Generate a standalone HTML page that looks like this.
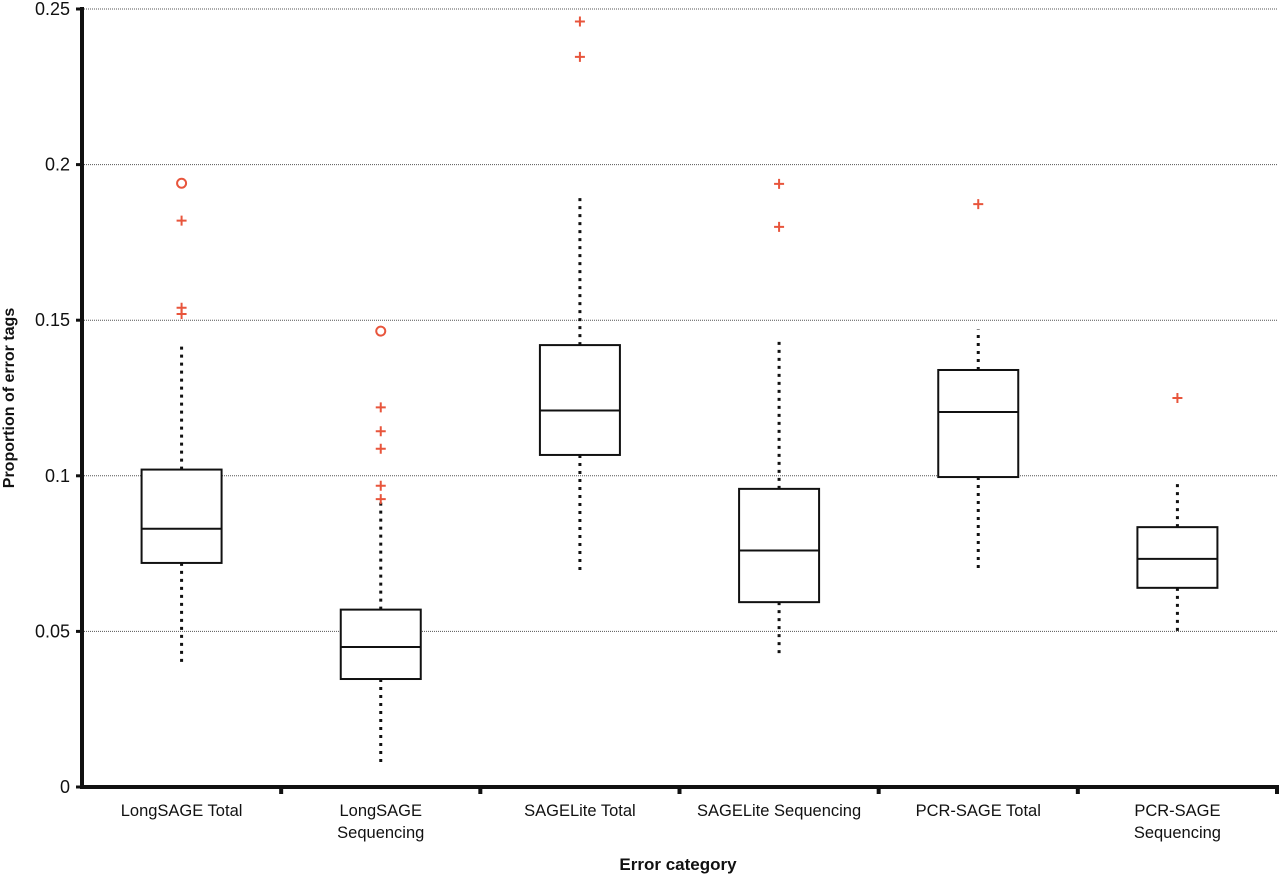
<!DOCTYPE html>
<html><head><meta charset="utf-8"><style>
body{margin:0;background:#fff;}
svg{display:block;font-family:"Liberation Sans",Arial,sans-serif;}
</style></head><body>
<svg id="chart" width="1280" height="876"></svg>
<script>
const categories=[["LongSAGE Total"],["LongSAGE","Sequencing"],["SAGELite Total"],["SAGELite Sequencing"],["PCR-SAGE Total"],["PCR-SAGE","Sequencing"]];
const whiskerLow=[0.039,0.008,0.069,0.0424,0.0688,0.049];
const q1=[0.072,0.0347,0.1067,0.0594,0.0996,0.064];
const median=[0.083,0.045,0.121,0.076,0.1205,0.0733];
const q3=[0.102,0.057,0.142,0.0958,0.134,0.0835];
const whiskerHigh=[0.143,0.093,0.19,0.1436,0.147,0.0987];
const outlierCat=[0,0,0,0,1,1,1,1,1,1,2,2,3,3,4,5];
const outlierVal=[0.194,0.182,0.154,0.152,0.1465,0.122,0.1143,0.1087,0.0968,0.0925,0.246,0.2346,0.1938,0.180,0.1873,0.125];
const outlierType=["o","+","+","+","o","+","+","+","+","+","+","+","+","+","+","+"];
const yTicks=[0,0.05,0.1,0.15,0.2,0.25];
const yTickLabels=["0","0.05","0.1","0.15","0.2","0.25"];

const NS="http://www.w3.org/2000/svg";
const svg=document.getElementById('chart');
const X0=82,X1=1277,Y0=787,Y1=9,YMAX=0.25;
const y=v=>Y0-(v/YMAX)*(Y0-Y1);
const step=(X1-X0)/categories.length;
const x=i=>X0+step*(i+0.5);
function el(t,a,p){const e=document.createElementNS(NS,t);for(const k in a)e.setAttribute(k,a[k]);(p||svg).appendChild(e);return e;}

yTicks.forEach((t,i)=>{
  if(t>0){const g=el('line',{x1:X0,x2:X1,y1:y(t),y2:y(t),stroke:'#555','stroke-width':1,'stroke-dasharray':'1,1'});
  
  }
  const tk=el('line',{x1:X0-6,x2:X0,y1:y(t),y2:y(t),stroke:'#111','stroke-width':3});
  
  
  const tx=el('text',{x:X0-12,y:y(t)+6,'text-anchor':'end','font-size':18,fill:'#111'});
  tx.textContent=yTickLabels[i];
  
  
});
const ya=el('line',{x1:X0,x2:X0,y1:Y1-2,y2:Y0+2,stroke:'#111','stroke-width':4});


const xa=el('line',{x1:X0,x2:X1+2,y1:Y0,y2:Y0,stroke:'#111','stroke-width':4});



categories.forEach((c,i)=>{
  const cx=x(i),w=40;
  const tk=el('line',{x1:X0+step*(i+1),x2:X0+step*(i+1),y1:Y0,y2:Y0+7,stroke:'#111','stroke-width':4});
  
  
  const g=el('g',{});
  
  
  el('line',{x1:cx,x2:cx,y1:y(q3[i]),y2:y(whiskerHigh[i]),stroke:'#111','stroke-width':3,'stroke-dasharray':'3,5'},g);
  el('line',{x1:cx,x2:cx,y1:y(q1[i]),y2:y(whiskerLow[i]),stroke:'#111','stroke-width':3,'stroke-dasharray':'3,5'},g);
  el('rect',{x:cx-w,y:y(q3[i]),width:2*w,height:y(q1[i])-y(q3[i]),fill:'#fff',stroke:'#111','stroke-width':2},g);
  el('line',{x1:cx-w,x2:cx+w,y1:y(median[i]),y2:y(median[i]),stroke:'#111','stroke-width':2},g);
  c.forEach((line,j)=>{
    const t=el('text',{x:cx,y:816+j*22,'text-anchor':'middle','font-size':16.5,fill:'#111'});
    t.textContent=line;
    
    
  });
});

outlierVal.forEach((v,k)=>{
  const cx=x(outlierCat[k]),cy=y(v);let m;
  if(outlierType[k]==='o'){m=el('circle',{cx:cx,cy:cy,r:4.5,fill:'none',stroke:'#e8553c','stroke-width':2});}
  else{m=el('path',{d:`M${cx-5},${cy}H${cx+5}M${cx},${cy-5}V${cy+5}`,stroke:'#e8553c','stroke-width':2});}
  
  
});

const yt=el('text',{transform:'translate(14,398) rotate(-90)','text-anchor':'middle','font-size':16,'font-weight':'bold',fill:'#111'});
yt.textContent='Proportion of error tags';


const xt=el('text',{x:678,y:870,'text-anchor':'middle','font-size':17,'font-weight':'bold',fill:'#111'});
xt.textContent='Error category';


</script>
</body></html>
